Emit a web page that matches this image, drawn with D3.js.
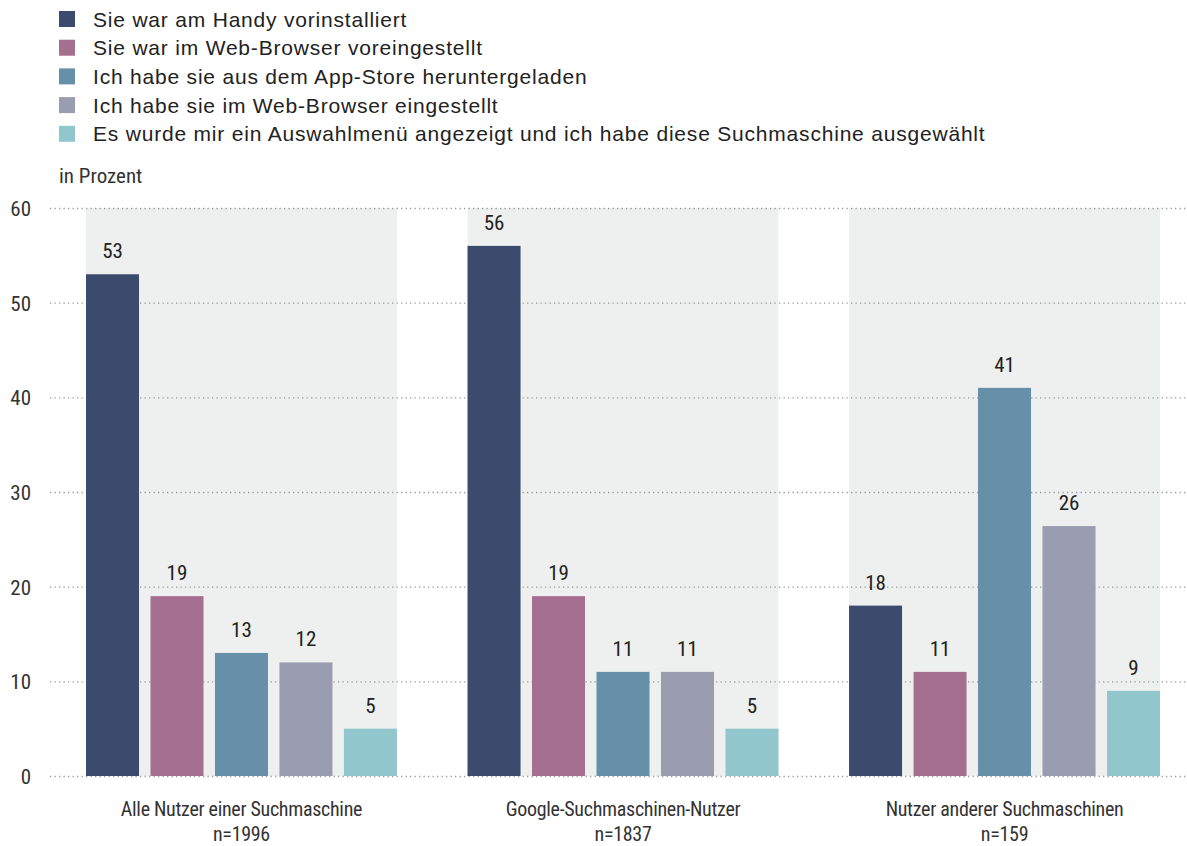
<!DOCTYPE html>
<html><head><meta charset="utf-8">
<script src="https://cdn.jsdelivr.net/npm/d3@7"></script>
<style>
body{margin:0;background:#fff;}
svg{display:block;}
</style></head>
<body><svg id="chart" width="1187" height="846"></svg>
<script>
const groups = ["Alle Nutzer einer Suchmaschine", "Google-Suchmaschinen-Nutzer", "Nutzer anderer Suchmaschinen"];
const groupN = ["n=1996", "n=1837", "n=159"];
const seriesNames = [
  "Sie war am Handy vorinstalliert",
  "Sie war im Web-Browser voreingestellt",
  "Ich habe sie aus dem App-Store heruntergeladen",
  "Ich habe sie im Web-Browser eingestellt",
  "Es wurde mir ein Auswahlmenü angezeigt und ich habe diese Suchmaschine ausgewählt"
];
const colors = ["#3b4b6e", "#a5708f", "#668fa8", "#9a9caf", "#91c7cc"];
const valuesAll = [53, 19, 13, 12, 5];
const valuesGoogle = [56, 19, 11, 11, 5];
const valuesOther = [18, 11, 41, 26.4, 9];
const yTicks = [0, 10, 20, 30, 40, 50, 60];
const unitLabel = "in Prozent";

const data = [valuesAll, valuesGoogle, valuesOther];
const svg = d3.select("#chart");
const condFont = '"Liberation Sans Narrow","Roboto Condensed",Roboto,sans-serif';

const y = d3.scaleLinear().domain([0, 60]).range([776, 208]);
const x0 = d3.scaleBand().domain(groups).range([86, 1160]).paddingInner(0.185).paddingOuter(0);
const x1 = d3.scaleBand().domain(d3.range(5)).range([0, x0.bandwidth()]).paddingInner(0.178).paddingOuter(0);

// group backgrounds
svg.append("g").selectAll("rect").data(groups).join("rect")
  .attr("x", d => x0(d)).attr("y", y(60))
  .attr("width", x0.bandwidth()).attr("height", y(0) - y(60))
  .attr("fill", "#eef0ef");

// gridlines + y labels
const yAxis = d3.axisLeft(y).tickValues(yTicks).tickSize(-(1187 - 50)).tickFormat(d3.format("d"));
const ga = svg.append("g").attr("transform", "translate(50,0)").call(yAxis);
ga.select(".domain").remove();
ga.selectAll(".tick line").attr("stroke", "#9a9a9a").attr("stroke-width", 1.3).attr("stroke-dasharray", "1.3,3.2");
ga.selectAll(".tick text").attr("x", -19).attr("fill", "#333").attr("font-size", 21).attr("font-family", condFont).attr("dy", "0.35em");

// bars
const gg = svg.append("g").selectAll("g").data(groups).join("g")
  .attr("transform", d => `translate(${x0(d)},0)`);
gg.selectAll("rect").data((g, gi) => data[gi].map((v, i) => ({v, i})))
  .join("rect")
  .attr("x", d => x1(d.i)).attr("width", x1.bandwidth())
  .attr("y", d => y(d.v)).attr("height", d => y(0) - y(d.v))
  .attr("fill", d => colors[d.i]);
gg.selectAll("text.val").data((g, gi) => data[gi].map((v, i) => ({v, i})))
  .join("text").attr("class", "val")
  .attr("x", d => x1(d.i) + x1.bandwidth() / 2).attr("y", d => y(d.v) - 16)
  .attr("text-anchor", "middle").attr("font-family", condFont).attr("font-size", 21)
  .attr("font-weight", 400).attr("fill", "#222")
  .text(d => d3.format(".0f")(d.v));

// category labels
const cl = svg.append("g").selectAll("text").data(groups).join("text")
  .attr("text-anchor", "middle").attr("font-family", condFont).attr("font-size", 20)
  .attr("letter-spacing", -0.3).attr("fill", "#333")
  .attr("x", d => x0(d) + x0.bandwidth() / 2).attr("y", 816);
cl.append("tspan").text(d => d);
cl.append("tspan").attr("x", d => x0(d) + x0.bandwidth() / 2).attr("dy", 25).text((d, i) => groupN[i]);

// unit label
svg.append("text").attr("x", 59).attr("y", 183).attr("font-family", condFont).attr("font-size", 21).attr("fill", "#333").text(unitLabel);

// legend
const lg = svg.append("g").selectAll("g").data(seriesNames).join("g")
  .attr("transform", (d, i) => `translate(59,${11 + i * 28.7})`);
lg.append("rect").attr("width", 16).attr("height", 16).attr("fill", (d, i) => colors[i]);
lg.append("text").attr("x", 34).attr("y", 15.5).attr("font-family", '"Liberation Sans",Arial,sans-serif')
  .attr("font-size", 21).attr("letter-spacing", 0.8).attr("fill", "#222").text(d => d);
</script></body></html>
